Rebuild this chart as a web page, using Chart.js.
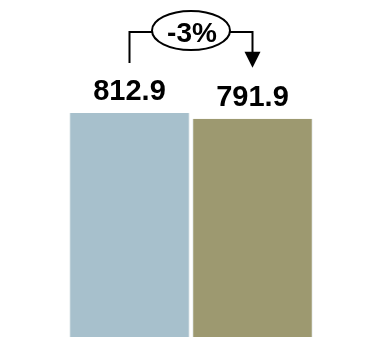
<!DOCTYPE html>
<html>
<head>
<meta charset="utf-8">
<script src="https://cdn.jsdelivr.net/npm/chart.js@4"></script>
<style>
  html, body { margin: 0; padding: 0; background: #fff; }
  #wrap { width: 370px; height: 337px; }
</style>
</head>
<body>
<div id="wrap"><canvas id="chart"></canvas></div>
<script>
const categories = ["Before", "After"];
const values = [812.9, 791.9];
const barColors = ["#a7c0cc", "#9d9970"];

// value labels above each bar
const valueLabels = {
  id: "valueLabels",
  afterDatasetsDraw(chart) {
    const ctx = chart.ctx;
    const bars = chart.getDatasetMeta(0).data;
    ctx.save();
    ctx.fillStyle = "#000";
    ctx.font = "bold 29px 'Liberation Sans', Arial, sans-serif";
    ctx.textAlign = "center";
    ctx.textBaseline = "alphabetic";
    bars.forEach((bar, i) => {
      ctx.fillText(values[i].toFixed(1), bar.x, bar.y - 13);
    });
    ctx.restore();
  }
};

// bracket arrow with the % change in an oval
const changeArrow = {
  id: "changeArrow",
  afterDatasetsDraw(chart) {
    const ctx = chart.ctx;
    const bars = chart.getDatasetMeta(0).data;
    const x1 = bars[0].x, x2 = bars[1].x;
    const lineY = 32;
    const cx = (x1 + x2) / 2, cy = 30.5;
    const rx = 39, ry = 19.5;
    const pct = Math.round((values[1] - values[0]) / values[0] * 100);

    ctx.save();
    ctx.strokeStyle = "#000";
    ctx.fillStyle = "#000";
    ctx.lineWidth = 2;

    ctx.beginPath();
    ctx.moveTo(x1, bars[0].y - 50);
    ctx.lineTo(x1, lineY);
    ctx.lineTo(cx - rx, lineY);
    ctx.moveTo(cx + rx, lineY);
    ctx.lineTo(x2, lineY);
    ctx.lineTo(x2, bars[1].y - 66);
    ctx.stroke();

    // arrow head
    ctx.beginPath();
    ctx.moveTo(x2 - 8, bars[1].y - 67);
    ctx.lineTo(x2 + 8, bars[1].y - 67);
    ctx.lineTo(x2, bars[1].y - 51);
    ctx.closePath();
    ctx.fill();

    ctx.beginPath();
    ctx.ellipse(cx, cy, rx, ry, 0, 0, Math.PI * 2);
    ctx.fillStyle = "#fff";
    ctx.fill();
    ctx.stroke();

    ctx.fillStyle = "#000";
    ctx.font = "bold 28px 'Liberation Sans', Arial, sans-serif";
    ctx.textAlign = "center";
    ctx.textBaseline = "alphabetic";
    ctx.fillText(pct + "%", cx + 1, cy + 11);
    ctx.restore();
  }
};

new Chart(document.getElementById("chart"), {
  type: "bar",
  data: {
    labels: categories,
    datasets: [{
      data: values,
      backgroundColor: barColors,
      borderColor: "#e6ecee",
      borderWidth: { left: 1, right: 1, top: 0, bottom: 0 },
      borderSkipped: false,
      barPercentage: 0.98,
      categoryPercentage: 1
    }]
  },
  options: {
    responsive: true,
    maintainAspectRatio: false,
    animation: false,
    layout: { padding: { left: 68, right: 56, top: 0, bottom: 0 } },
    plugins: { legend: { display: false }, tooltip: { enabled: false } },
    scales: {
      x: { display: false },
      y: { display: false, min: 0, max: 1223 }
    }
  },
  plugins: [valueLabels, changeArrow]
});
</script>
</body>
</html>
